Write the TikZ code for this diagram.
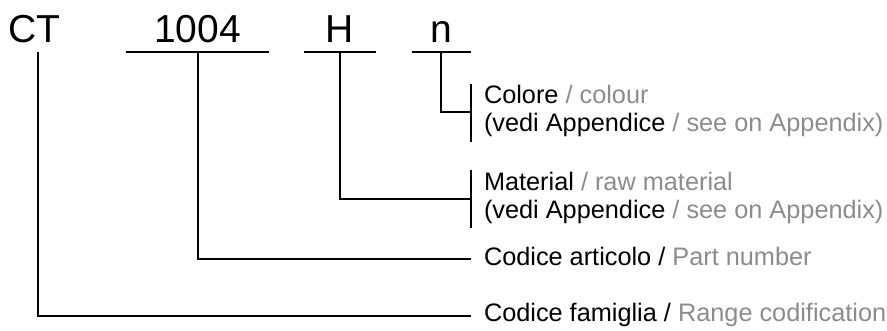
\documentclass[tikz,border=0pt]{standalone}
\usepackage{fontspec}
\setmainfont{Liberation Sans}
\usetikzlibrary{positioning}
\definecolor{engray}{RGB}{140,140,140}

\begin{document}
\begin{tikzpicture}[x=1pt,y=-1pt,line width=2pt,
    codice/.style={font=\fontsize{39}{39}\selectfont,inner sep=0pt,anchor=base},
    voce/.style={font=\fontsize{25.3}{28}\selectfont,inner ysep=0pt,inner xsep=12pt,
      anchor=west,align=left,text height=17pt,text depth=5pt},
    voce2/.style={voce,text height=45pt}]
    \useasboundingbox (0,0) rectangle (887,331);
    % 绘制代码
    \node[codice] (ct) at (34,43) {CT};
    \node[codice] (num) at (197.5,43) {1004};
    \node[codice] (mat) at (340,43) {H};
    \node[codice] (col) at (441,43) {n};
    % 绘制下划线
    \draw (126,52.5) -- (269,52.5);
    \draw (304,52.5) -- (376,52.5);
    \draw (412,52.5) -- (471,52.5);
    \coordinate (ct-u) at (38,52);
    \coordinate (num-u) at (198,52.5);
    \coordinate (mat-u) at (340,52.5);
    \coordinate (col-u) at (441,52.5);
    % 绘制说明
    \node[voce2] (lcol) at (471,112) {Colore {\color{engray}/ colour}\\(vedi Appendice {\color{engray}/ see on Appendix)}};
    \node[voce2] (lmat) at (471,199) {Material {\color{engray}/ raw material}\\(vedi Appendice {\color{engray}/ see on Appendix)}};
    \node[voce] (lnum) at (471,259.5) {Codice articolo / {\color{engray}Part number}};
    \node[voce] (lct) at (471,316) {Codice famiglia / {\color{engray}Range codification}};
    % 绘制括号
    \draw ([yshift=29pt,yshift=-1.5pt]lcol.west) -- ([yshift=-29pt,yshift=-1.5pt]lcol.west);
    \draw ([yshift=29pt]lmat.west) -- ([yshift=-29pt]lmat.west);
    % 绘制连线
    \draw (col-u) |- (lcol.west);
    \draw (mat-u) |- (lmat.west);
    \draw (num-u) |- (lnum.west);
    \draw (ct-u) |- (lct.west);
\end{tikzpicture}
\end{document}
